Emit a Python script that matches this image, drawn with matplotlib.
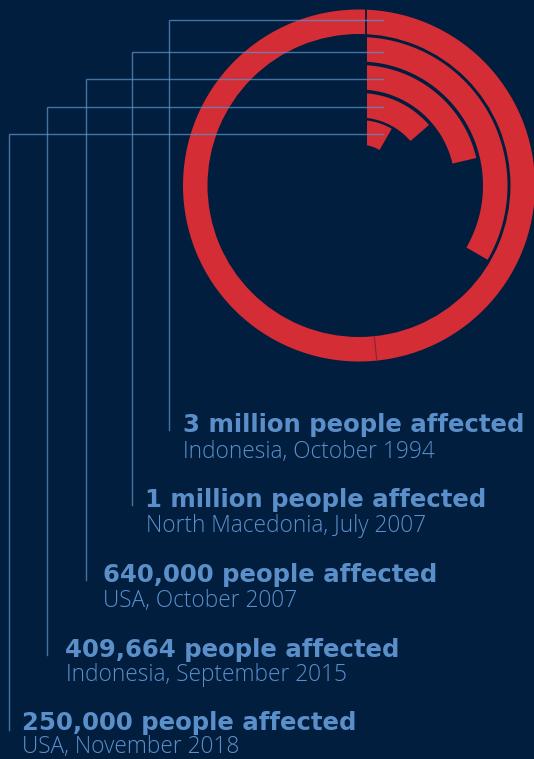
import numpy as np
import matplotlib.pyplot as plt
from matplotlib.patches import Polygon, Wedge

titles = ['3 million people affected', '1 million people affected',
          '640,000 people affected', '409,664 people affected',
          '250,000 people affected']
places = ['Indonesia, October 1994', 'North Macedonia, July 2007',
          'USA, October 2007', 'Indonesia, September 2015',
          'USA, November 2018']
affected = [3000000, 1000000, 640000, 409664, 250000]

bg = '#011e3e'
red = '#d42d35'
blue = '#5b8fc9'

fig = plt.figure(figsize=(5.34, 7.59), dpi=100, facecolor=bg)
ax = fig.add_axes([0, 0, 1, 1])
ax.set_facecolor(bg)
ax.set_xlim(0, 534)
ax.set_ylim(759, 0)
ax.axis('off')

cx, cy = 359, 185.5
pad = 8
r_outer = [176, 148.5, 120.5, 92.5, 65.5]
width = 24.5
line_y = [20, 52, 79, 107, 134]
line_x = [169, 132, 86, 47, 9]
line_end = [430, 505, 580, 655, 730]
title_x = [183, 145, 103, 65, 22]
sub_x = [183, 146, 103, 66, 22]
title_y = [432, 507, 582, 657, 730]
sub_y = [458, 532, 607, 681, 753]


def pt(r, a):
    return cx + r * np.sin(a), cy - r * np.cos(a)


vmax = max(affected)
for i, v in enumerate(affected):
    ro, ri = r_outer[i], r_outer[i] - width
    end = np.radians(360 * v / vmax)
    if v >= vmax:
        ax.add_patch(Wedge((cx, cy), ro, 0, 360, width=width,
                           facecolor=red, edgecolor='none'))
        # thin seams of the closed ring
        ax.plot([cx + 7, cx + 7], [cy - ro, cy - ri], color=bg, lw=1.3)
        a = np.pi - np.arcsin(16.5 / (ro - width / 2))
        ax.plot(*zip(pt(ro, a), pt(ri, a)), color='#8a2433', lw=0.8)
        continue
    a_out = np.linspace(np.arcsin(pad / ro), end, 200)
    a_in = np.linspace(end, np.arcsin(pad / ri), 200)
    xs = np.concatenate([cx + ro * np.sin(a_out), cx + ri * np.sin(a_in)])
    ys = np.concatenate([cy - ro * np.cos(a_out), cy - ri * np.cos(a_in)])
    ax.add_patch(Polygon(np.column_stack([xs, ys]), closed=True,
                         facecolor=red, edgecolor='none'))

for i in range(len(affected)):
    ax.plot([383, line_x[i], line_x[i]], [line_y[i], line_y[i], line_end[i]],
            color=blue, lw=1, alpha=0.75, solid_joinstyle='miter')
    ax.text(title_x[i], title_y[i], titles[i], color=blue, fontsize=17.6,
            fontweight='bold', family='DejaVu Sans', va='baseline', ha='left')
    ax.text(sub_x[i], sub_y[i], places[i], color=blue, fontsize=16.3,
            fontweight='light', family='Open Sans', va='baseline', ha='left')

fig.savefig('out.png', dpi=100, facecolor=bg)
